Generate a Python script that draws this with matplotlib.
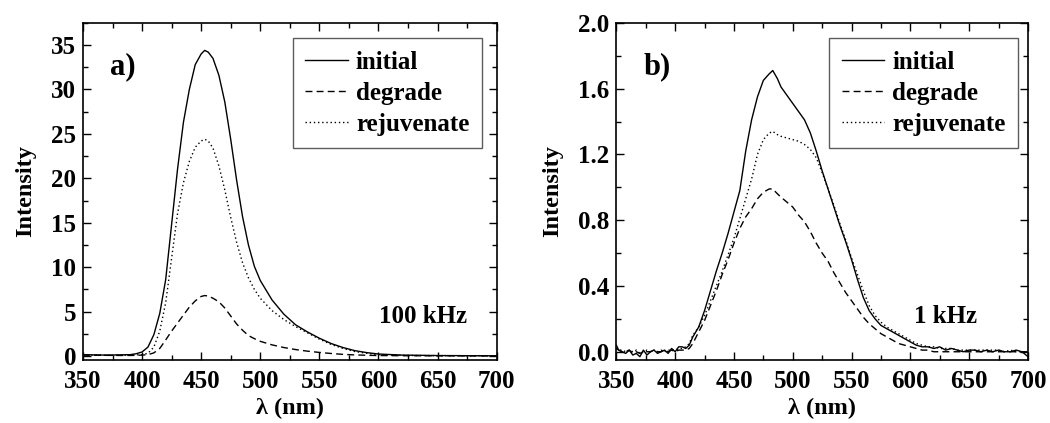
import matplotlib
matplotlib.use("Agg")
import matplotlib.pyplot as plt
from matplotlib.ticker import MultipleLocator

plt.rcParams['font.family'] = ['Liberation Serif', 'DejaVu Serif']
plt.rcParams['font.weight'] = 'bold'

# ---------------- Panel a (100 kHz) ----------------
wl_a = [350, 360, 370, 380, 390, 395, 400, 405, 410, 415, 420, 425, 430, 435, 440, 445,
        450, 453, 456, 460, 465, 470, 475, 480, 485, 490, 495, 500, 510, 520, 530, 540,
        550, 560, 570, 580, 590, 600, 620, 650, 680, 700]
initial_a = [0.15, 0.12, 0.1, 0.12, 0.15, 0.25, 0.45, 1.0, 2.4, 4.8, 8.6, 14.8, 21.0, 26.3,
             30.0, 32.8, 34.0, 34.4, 34.2, 33.5, 31.6, 28.6, 24.4, 19.8, 15.7, 12.5, 10.1,
             8.5, 6.3, 4.7, 3.5, 2.7, 2.0, 1.4, 0.95, 0.6, 0.38, 0.22, 0.1, 0.05, 0.03, 0.02]
degrade_a = [0.1, 0.08, 0.07, 0.06, 0.06, 0.07, 0.1, 0.15, 0.35, 0.85, 1.8, 2.8, 3.7, 4.6,
             5.5, 6.2, 6.7, 6.8, 6.75, 6.5, 6.1, 5.4, 4.5, 3.6, 2.9, 2.3, 1.95,
             1.65, 1.25, 0.95, 0.72, 0.54, 0.4, 0.28, 0.18, 0.12, 0.08, 0.05, 0.03, 0.02, 0.01, 0.0]
rejuv_a = [0.12, 0.1, 0.08, 0.08, 0.1, 0.12, 0.15, 0.3, 1.0, 2.8, 6.0, 11.0, 16.0, 19.5,
           21.9, 23.5, 24.2, 24.4, 24.2, 23.4, 21.4, 18.7, 15.6, 12.8, 10.5, 8.8, 7.5,
           6.5, 5.1, 4.1, 3.3, 2.6, 1.9, 1.3, 0.85, 0.5, 0.3, 0.15, 0.07, 0.03, 0.02, 0.02]

# ---------------- Panel b (1 kHz) ----------------
wl_b = [350, 352, 355, 358, 361, 364, 367, 370, 373, 376, 379, 382, 385, 388, 391, 394,
        397, 400, 403, 406, 409, 412, 415, 420, 425, 430, 435, 440, 445, 450, 455, 460,
        465, 470, 475, 480, 483, 487, 490, 495, 500, 505, 510, 515, 520, 525, 530, 535,
        540, 545, 550, 555, 560, 565, 570, 575, 580, 585, 590, 595, 600, 605, 610, 615,
        620, 625, 630, 635, 640, 645, 650, 655, 660, 665, 670, 675, 680, 685, 690, 695, 700]
initial_b = [0.04, 0.01, 0.0, -0.01, 0.01, -0.02, -0.01, -0.03, 0.01, -0.02, 0.0, 0.01,
             -0.01, 0.0, 0.01, -0.01, 0.02, 0.0, 0.03, 0.03, 0.02, 0.04, 0.09, 0.15, 0.25,
             0.37, 0.49, 0.6, 0.72, 0.85, 0.98, 1.22, 1.41, 1.55, 1.65, 1.69, 1.71, 1.66,
             1.61, 1.56, 1.51, 1.46, 1.41, 1.33, 1.22, 1.1, 0.99, 0.88, 0.77, 0.67, 0.56,
             0.44, 0.33, 0.25, 0.2, 0.16, 0.14, 0.12, 0.1, 0.08, 0.06, 0.04, 0.03, 0.03,
             0.02, 0.03, 0.01, 0.02, 0.01, 0.0, 0.01, 0.01, 0.0, 0.01, 0.0, 0.01, 0.0,
             0.0, 0.01, 0.0, -0.03]
degrade_b = [0.02, 0.01, 0.0, 0.0, 0.01, -0.01, 0.0, -0.01, 0.0, 0.0, 0.0, 0.01,
             0.0, 0.0, 0.01, 0.0, 0.01, 0.0, 0.01, 0.01, 0.01, 0.02, 0.05, 0.12, 0.19,
             0.28, 0.37, 0.47, 0.56, 0.66, 0.75, 0.82, 0.87, 0.93, 0.97, 0.99, 0.99, 0.96,
             0.94, 0.91, 0.88, 0.83, 0.79, 0.73, 0.66, 0.6, 0.55, 0.48, 0.42, 0.36, 0.31,
             0.26, 0.21, 0.17, 0.14, 0.11, 0.09, 0.07, 0.05, 0.04, 0.03, 0.02, 0.01, 0.01,
             0.0, 0.0, 0.0, 0.0, 0.0, 0.0, 0.0, 0.0, 0.0, 0.0, 0.0, 0.0, 0.0,
             0.0, 0.0, 0.0, 0.0]
rejuv_b = [0.02, 0.01, 0.01, 0.0, 0.01, 0.0, 0.01, -0.01, 0.0, 0.01, 0.0, 0.01,
           0.0, 0.01, 0.0, 0.01, 0.01, 0.01, 0.02, 0.02, 0.03, 0.05, 0.1, 0.15, 0.22,
           0.31, 0.4, 0.49, 0.59, 0.69, 0.81, 0.93, 1.05, 1.2, 1.29, 1.33, 1.34, 1.32,
           1.31, 1.3, 1.29, 1.28, 1.26, 1.23, 1.18, 1.09, 0.99, 0.89, 0.78, 0.68, 0.57,
           0.47, 0.37, 0.28, 0.22, 0.18, 0.15, 0.13, 0.11, 0.09, 0.07, 0.05, 0.04, 0.03,
           0.03, 0.02, 0.02, 0.02, 0.01, 0.01, 0.01, 0.01, 0.01, 0.01, 0.01, 0.01, 0.0,
           0.01, 0.0, 0.0, 0.0]

series_labels = ["initial", "degrade", "rejuvenate"]
xticks = [350, 400, 450, 500, 550, 600, 650, 700]

fig = plt.figure(figsize=(10.5, 4.23), dpi=100)
ax1 = fig.add_axes([0.079, 0.149, 0.394, 0.797])
ax2 = fig.add_axes([0.587, 0.149, 0.392, 0.797])

styles = [dict(ls='-'), dict(ls=(0, (5, 3))), dict(ls=(0, (1, 2)))]

def draw(ax, wl, ys, ylim, ymaj, ymin, yfmt, letter, freq, legx, fx):
    for y, lab, st in zip(ys, series_labels, styles):
        ax.plot(wl, y, color='black', lw=1.0, label=lab, **st)
    ax.set_xlim(350, 700)
    ax.set_ylim(*ylim)
    ax.set_xticks(xticks)
    ax.xaxis.set_minor_locator(MultipleLocator(25))
    ax.yaxis.set_major_locator(MultipleLocator(ymaj))
    ax.yaxis.set_minor_locator(MultipleLocator(ymin))
    ax.yaxis.set_major_formatter(plt.FormatStrFormatter(yfmt))
    ax.tick_params(which='both', direction='in', top=True, right=True, labelsize=18, width=1)
    ax.tick_params(axis='x', which='major', pad=7)
    ax.tick_params(axis='y', which='major', pad=5)
    ax.tick_params(which='major', length=6)
    ax.tick_params(which='minor', length=3.5)
    for sp in ax.spines.values():
        sp.set_linewidth(1.2)
    ax.set_xlabel('λ (nm)', fontsize=17.5, fontweight='bold', labelpad=4)
    ax.set_ylabel('Intensity', fontsize=17.5, fontweight='bold', labelpad=11)
    ax.text(0.065, 0.87, letter, transform=ax.transAxes, fontsize=22,
            fontweight='bold', va='center', ha='left')
    ax.text(fx, 0.13, freq, transform=ax.transAxes, fontsize=18,
            fontweight='bold', va='center', ha='right')
    leg = ax.legend(loc='upper right', bbox_to_anchor=(legx, 0.955), fancybox=False,
                    edgecolor='#333333', fontsize=18, handlelength=1.7,
                    handletextpad=0.32, borderpad=0.5, labelspacing=0.32,
                    borderaxespad=0)
    leg.get_frame().set_linewidth(1.0)
    for t in leg.get_texts():
        t.set_fontweight('bold')

draw(ax1, wl_a, [initial_a, degrade_a, rejuv_a], (-0.45, 37.5), 5, 2.5, '%d',
     'a)', '100 kHz', 0.964, 0.928)
draw(ax2, wl_b, [initial_b, degrade_b, rejuv_b], (-0.05, 2.0), 0.4, 0.2, '%.1f',
     'b)', '1 kHz', 0.976, 0.876)

fig.savefig('out.png', dpi=100)
